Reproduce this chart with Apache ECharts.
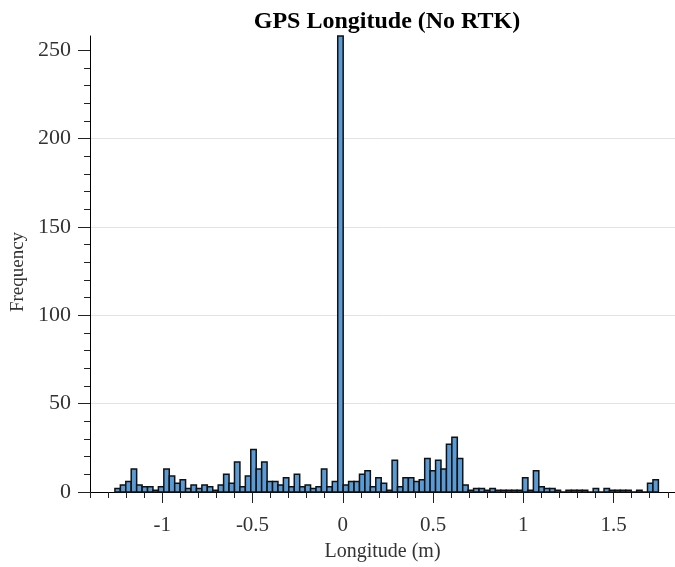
<!DOCTYPE html>
<html>
<head>
<meta charset="utf-8">
<script src="https://cdn.jsdelivr.net/npm/echarts@6/dist/echarts.min.js"></script>
<style>html,body{margin:0;padding:0;background:#fff;}#chart{width:675px;height:567px;}</style>
</head>
<body>
<div id="chart"></div>
<script>
// Histogram bins: start and width (m), counts per bin
const binStart = -1.262;
const binWidth = 0.0301;
const counts = [
  2, 4, 6, 13, 4, 3, 3, 1, 3, 13,
  9, 5, 7, 2, 4, 2, 4, 3, 1, 4,
  10, 5, 17, 3, 9, 24, 13, 17, 6, 6,
  4, 8, 3, 10, 3, 4, 2, 3, 13, 3,
  6, 258, 4, 6, 6, 10, 12, 3, 8, 5,
  1, 18, 3, 8, 8, 6, 7, 19, 12, 18,
  13, 27, 31, 19, 4, 1, 2, 2, 1, 2,
  1, 1, 1, 1, 1, 8, 1, 12, 3, 2,
  2, 1, 0, 1, 1, 1, 1, 0, 2, 0,
  2, 1, 1, 1, 1, 0, 1, 0, 5, 7
];
const xMajorTicks = [-1, -0.5, 0, 0.5, 1, 1.5];
const xMinorTicks = [-1.4, -1.3, -1.2, -1.1, -1.0, -0.9, -0.8, -0.7, -0.6, -0.5, -0.4, -0.3, -0.2, -0.1, 0, 0.1, 0.2, 0.3, 0.4, 0.5, 0.6, 0.7, 0.8, 0.9, 1.0, 1.1, 1.2, 1.3, 1.4, 1.5, 1.6, 1.7, 1.8];
const yMajorTicks = [0, 50, 100, 150, 200, 250];
const yMinorTicks = [0,10,20,30,40,50,60,70,80,90,100,110,120,130,140,150,160,170,180,190,200,210,220,230,240,250];

const data = counts.map((c, k) => [binStart + k * binWidth, binStart + (k + 1) * binWidth, c]);

const serif = '"Liberation Serif", "Times New Roman", serif';
const chart = echarts.init(document.getElementById('chart'), null, {renderer: 'canvas'});
chart.setOption({
  animation: false,
  backgroundColor: '#fff',
  title: {
    text: 'GPS Longitude (No RTK)',
    left: 382, top: 5, textAlign: 'center',
    textStyle: {fontFamily: serif, fontWeight: 'bold', fontSize: 24, color: '#000'}
  },
  grid: {left: 90, top: 36, width: 585, height: 456},
  xAxis: [{
    type: 'value', min: -1.4, max: 1.84,
    name: 'Longitude (m)', nameLocation: 'middle', nameGap: 50,
    nameTextStyle: {fontFamily: serif, fontSize: 20, color: '#333'},
    axisLine: {show: true, onZero: false, lineStyle: {color: '#000', width: 1}},
    axisTick: {show: true, length: 11, customValues: xMajorTicks, lineStyle: {color: '#222'}},
    axisLabel: {customValues: xMajorTicks, margin: 23, fontFamily: serif, fontSize: 21, color: '#333',
      formatter: v => String(v)},
    splitLine: {show: false}
  }, {
    type: 'value', min: -1.4, max: 1.84, position: 'bottom',
    axisLine: {show: false, onZero: false},
    axisTick: {show: true, length: 6, customValues: xMinorTicks, lineStyle: {color: '#222'}},
    axisLabel: {show: false},
    splitLine: {show: false}
  }],
  yAxis: [{
    type: 'value', min: 0, max: 258,
    name: 'Frequency', nameLocation: 'middle', nameGap: 62,
    nameTextStyle: {fontFamily: serif, fontSize: 19, color: '#333', padding: [0, 16, 0, 0]},
    axisLine: {show: true, onZero: false, lineStyle: {color: '#000', width: 1}},
    axisTick: {show: true, length: 12, customValues: yMajorTicks, lineStyle: {color: '#222'}},
    axisLabel: {customValues: yMajorTicks, margin: 19, fontFamily: serif, fontSize: 22, color: '#333'},
    splitLine: {show: true, showMaxLine: false, showMinLine: false, lineStyle: {color: '#e3e3e3', width: 1}}
  }, {
    type: 'value', min: 0, max: 258, position: 'left',
    axisLine: {show: false, onZero: false},
    axisTick: {show: true, length: 6, customValues: yMinorTicks, lineStyle: {color: '#222'}},
    axisLabel: {show: false},
    splitLine: {show: false}
  }],
  series: [{
    type: 'custom',
    xAxisIndex: 0, yAxisIndex: 0,
    data: data,
    encode: {x: [0, 1], y: 2},
    renderItem: function (params, api) {
      const x0 = api.value(0), x1 = api.value(1), v = api.value(2);
      const p0 = api.coord([x0, 0]);
      const p1 = api.coord([x1, v]);
      return {
        type: 'rect',
        shape: {x: p0[0], y: p1[1], width: p1[0] - p0[0], height: p0[1] - p1[1]},
        style: {fill: '#5b9bd5', stroke: '#111', lineWidth: 1.5}
      };
    }
  }]
});
</script>
</body>
</html>
